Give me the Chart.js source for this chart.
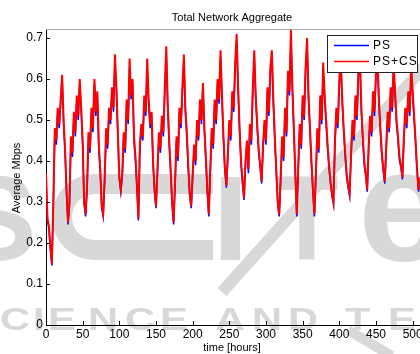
<!DOCTYPE html>
<html>
<head>
<meta charset="utf-8">
<script src="https://cdn.jsdelivr.net/npm/chart.js@4.4.1/dist/chart.umd.min.js"></script>
<style>
  html, body { margin: 0; padding: 0; background: #fff; }
  canvas { display: block; }
</style>
</head>
<body>
<canvas id="myChart" width="420" height="354"></canvas>
<script>
// Average Mbps, one value every 2 hours (t = 0, 2, 4 ... 510)
var psCs = [
  0.37, 0.26, 0.24,
  0.19, 0.15, 0.30, 0.48, 0.45, 0.53, 0.49, 0.55, 0.61, 0.50, 0.43, 0.33,
  0.25, 0.30, 0.46, 0.42, 0.52, 0.47, 0.56, 0.51, 0.60, 0.53, 0.45, 0.30,
  0.27, 0.34, 0.47, 0.43, 0.53, 0.48, 0.60, 0.52, 0.57, 0.44, 0.38, 0.29,
  0.27, 0.36, 0.48, 0.44, 0.53, 0.50, 0.58, 0.53, 0.66, 0.58, 0.47, 0.36,
  0.33, 0.37, 0.47, 0.43, 0.55, 0.50, 0.65, 0.56, 0.60, 0.46, 0.41, 0.34,
  0.26, 0.44, 0.49, 0.46, 0.56, 0.52, 0.65, 0.55, 0.49, 0.52, 0.40, 0.33,
  0.29, 0.38, 0.47, 0.43, 0.51, 0.47, 0.58, 0.68, 0.54, 0.45, 0.38, 0.30,
  0.25, 0.35, 0.46, 0.41, 0.53, 0.49, 0.58, 0.66, 0.53, 0.47, 0.39, 0.32,
  0.29, 0.37, 0.44, 0.40, 0.50, 0.46, 0.55, 0.50, 0.59, 0.48, 0.41, 0.33,
  0.27, 0.38, 0.48, 0.44, 0.55, 0.50, 0.60, 0.55, 0.67, 0.56, 0.46, 0.38,
  0.34, 0.42, 0.50, 0.46, 0.57, 0.53, 0.64, 0.71, 0.58, 0.48, 0.40, 0.35,
  0.31, 0.40, 0.45, 0.38, 0.49, 0.45, 0.58, 0.67, 0.56, 0.49, 0.43, 0.39,
  0.35, 0.44, 0.50, 0.45, 0.58, 0.52, 0.63, 0.67, 0.55, 0.46, 0.38, 0.30,
  0.27, 0.36, 0.46, 0.41, 0.53, 0.47, 0.62, 0.57, 0.72, 0.58, 0.48, 0.37,
  0.27, 0.39, 0.49, 0.44, 0.56, 0.51, 0.63, 0.70, 0.56, 0.48, 0.40, 0.33,
  0.27, 0.37, 0.48, 0.43, 0.56, 0.50, 0.64, 0.56, 0.50, 0.44, 0.39, 0.35, 0.32,
  0.30, 0.45, 0.53, 0.49, 0.60, 0.65, 0.55, 0.48, 0.42, 0.37, 0.34,
  0.32, 0.42, 0.50, 0.46, 0.56, 0.51, 0.62, 0.66, 0.53, 0.46, 0.40, 0.37,
  0.33, 0.44, 0.51, 0.47, 0.57, 0.52, 0.62, 0.66, 0.55, 0.48, 0.42, 0.38,
  0.35, 0.44, 0.52, 0.48, 0.58, 0.53, 0.64, 0.57, 0.50, 0.46, 0.41, 0.39,
  0.36, 0.46, 0.53, 0.49, 0.57, 0.52, 0.63, 0.57, 0.51, 0.45, 0.38, 0.33, 0.36
];
var ps = [
  0.36, 0.255, 0.235,
  0.185, 0.145, 0.29, 0.47, 0.44, 0.52, 0.48, 0.54, 0.60, 0.49, 0.42, 0.32,
  0.245, 0.29, 0.45, 0.41, 0.51, 0.46, 0.55, 0.50, 0.59, 0.52, 0.44, 0.295,
  0.265, 0.33, 0.46, 0.42, 0.52, 0.47, 0.59, 0.51, 0.56, 0.43, 0.37, 0.285,
  0.265, 0.35, 0.47, 0.43, 0.52, 0.49, 0.57, 0.52, 0.64, 0.57, 0.46, 0.355,
  0.325, 0.36, 0.46, 0.42, 0.54, 0.49, 0.63, 0.55, 0.59, 0.45, 0.40, 0.335,
  0.255, 0.43, 0.48, 0.45, 0.55, 0.51, 0.63, 0.54, 0.48, 0.51, 0.39, 0.325,
  0.285, 0.37, 0.46, 0.42, 0.50, 0.46, 0.57, 0.66, 0.53, 0.44, 0.37, 0.295,
  0.245, 0.34, 0.45, 0.40, 0.52, 0.48, 0.57, 0.64, 0.52, 0.46, 0.38, 0.315,
  0.285, 0.36, 0.43, 0.39, 0.49, 0.45, 0.54, 0.49, 0.58, 0.47, 0.40, 0.325,
  0.265, 0.37, 0.47, 0.43, 0.54, 0.49, 0.59, 0.54, 0.65, 0.55, 0.45, 0.375,
  0.335, 0.41, 0.49, 0.45, 0.56, 0.52, 0.63, 0.69, 0.57, 0.47, 0.39, 0.345,
  0.305, 0.39, 0.44, 0.37, 0.48, 0.44, 0.57, 0.65, 0.55, 0.48, 0.42, 0.385,
  0.345, 0.43, 0.49, 0.44, 0.57, 0.51, 0.62, 0.65, 0.54, 0.45, 0.37, 0.295,
  0.265, 0.35, 0.45, 0.40, 0.52, 0.46, 0.61, 0.56, 0.70, 0.57, 0.47, 0.365,
  0.265, 0.38, 0.48, 0.43, 0.55, 0.50, 0.62, 0.68, 0.55, 0.47, 0.39, 0.325,
  0.265, 0.36, 0.47, 0.42, 0.55, 0.49, 0.62, 0.55, 0.49, 0.43, 0.38, 0.345, 0.315,
  0.295, 0.44, 0.52, 0.48, 0.59, 0.63, 0.54, 0.47, 0.41, 0.36, 0.335,
  0.315, 0.41, 0.49, 0.45, 0.55, 0.50, 0.61, 0.64, 0.52, 0.45, 0.39, 0.365,
  0.325, 0.43, 0.50, 0.46, 0.56, 0.51, 0.61, 0.64, 0.54, 0.47, 0.41, 0.375,
  0.345, 0.43, 0.51, 0.47, 0.57, 0.52, 0.62, 0.56, 0.49, 0.45, 0.40, 0.385,
  0.355, 0.45, 0.52, 0.48, 0.56, 0.51, 0.62, 0.56, 0.50, 0.44, 0.375, 0.325, 0.355
];
var hours = ps.map(function (v, i) { return i * 2; });
var xTicks = [0, 50, 100, 150, 200, 250, 300, 350, 400, 450, 500];
var yTicks = [0, 0.1, 0.2, 0.3, 0.4, 0.5, 0.6, 0.7];
var seriesNames = ['PS', 'PS+CS'];

var fontName = '"Liberation Sans", Arial, sans-serif';

function toPoints(vals) {
  return vals.map(function (v, i) { return { x: hours[i], y: v }; });
}

// grey publisher watermark behind the plot
function wmLetter(ctx, ch, x, y, size, sx) {
  ctx.save();
  ctx.translate(x, y);
  ctx.scale(sx, 1);
  ctx.font = 'bold ' + size + 'px ' + fontName;
  ctx.fillText(ch, 0, 0);
  ctx.restore();
}

var decor = {
  id: 'decor',
  beforeDraw: function (chart) {
    var ctx = chart.ctx;
    ctx.save();
    ctx.fillStyle = '#d8d8d8';
    ctx.strokeStyle = '#d8d8d8';
    ctx.textBaseline = 'alphabetic';
    wmLetter(ctx, 'S', -44, 260, 121, 1);
    // wide open C
    ctx.lineWidth = 20;
    ctx.lineCap = 'butt';
    ctx.beginPath();
    ctx.moveTo(213, 184);
    ctx.lineTo(95, 184);
    ctx.arc(95, 217, 33, -Math.PI / 2, Math.PI / 2, true);
    ctx.lineTo(213, 250);
    ctx.stroke();
    wmLetter(ctx, 'I', 212, 260, 121, 1.1);
    wmLetter(ctx, 'T', 275, 260, 121, 0.86);
    wmLetter(ctx, 'e', 358, 260, 160, 1);
    ctx.lineWidth = 12;
    ctx.beginPath();
    ctx.moveTo(222, 292);
    ctx.lineTo(432, 58);
    ctx.stroke();
    ctx.lineWidth = 10;
    ctx.beginPath();
    ctx.moveTo(348, 330);
    ctx.lineTo(392, 356);
    ctx.stroke();
    var row = [['C', 0], ['I', 33], ['E', 48], ['N', 88], ['C', 125], ['E', 160],
               ['A', 215], ['N', 252], ['D', 288], ['T', 345], ['E', 388]];
    row.forEach(function (r) { wmLetter(ctx, r[0], r[1], 330, 32, 1.3); });
    ctx.restore();
  },
  afterDatasetsDraw: function (chart) {
    var ctx = chart.ctx;
    var a = chart.chartArea;
    var xs = chart.scales.x, ys = chart.scales.y;
    ctx.save();
    // top box line
    ctx.strokeStyle = '#a8a8a8';
    ctx.lineWidth = 1;
    ctx.beginPath();
    ctx.moveTo(a.left, Math.round(a.top) + 0.5);
    ctx.lineTo(a.right, Math.round(a.top) + 0.5);
    ctx.stroke();
    // inward tick marks
    ctx.strokeStyle = '#000';
    ctx.beginPath();
    xTicks.forEach(function (v) {
      var px = Math.round(xs.getPixelForValue(v)) + 0.5;
      ctx.moveTo(px, a.bottom);
      ctx.lineTo(px, a.bottom - 4);
    });
    yTicks.forEach(function (v) {
      var py = Math.round(ys.getPixelForValue(v)) + 0.5;
      ctx.moveTo(a.left, py);
      ctx.lineTo(a.left + 4, py);
    });
    ctx.stroke();
    // legend
    ctx.fillStyle = '#fff';
    ctx.fillRect(327.5, 35.5, 90, 37);
    ctx.strokeStyle = '#222';
    ctx.strokeRect(327.5, 35.5, 90, 37);
    var cols = ['#0000ff', '#ff0000'];
    ctx.font = '12px ' + fontName;
    ctx.textBaseline = 'middle';
    ctx.textAlign = 'left';
    ctx.letterSpacing = '1px';
    seriesNames.forEach(function (n, i) {
      var y = 45.5 + i * 16;
      ctx.strokeStyle = cols[i];
      ctx.lineWidth = 1.5;
      ctx.beginPath();
      ctx.moveTo(334, y);
      ctx.lineTo(369, y);
      ctx.stroke();
      ctx.fillStyle = '#000';
      ctx.fillText(n, 373, y + 0.5);
    });
    ctx.letterSpacing = '0px';
    // titles
    ctx.fillStyle = '#000';
    ctx.textAlign = 'center';
    ctx.font = '11px ' + fontName;
    ctx.fillText('Total Network Aggregate', 232, 17.5);
    ctx.fillText('time [hours]', 232, 348);
    ctx.translate(16.5, 178);
    ctx.rotate(-Math.PI / 2);
    ctx.fillText('Average Mbps', 0, 0);
    ctx.restore();
  }
};

var ctx = document.getElementById('myChart').getContext('2d');
var myChart = new Chart(ctx, {
  type: 'line',
  data: {
    datasets: [{
      label: seriesNames[0],
      data: toPoints(ps),
      borderColor: '#0000ff',
      borderWidth: 1.5,
      pointRadius: 0,
      order: 1
    }, {
      label: seriesNames[1],
      data: toPoints(psCs),
      borderColor: '#ff0000',
      borderWidth: 2,
      pointRadius: 0,
      order: 0
    }]
  },
  options: {
    responsive: false,
    animation: false,
    layout: { padding: { top: 29, left: 0, right: 0, bottom: 0 } },
    plugins: {
      legend: { display: false },
      title: { display: false },
      tooltip: { enabled: false }
    },
    scales: {
      x: {
        type: 'linear',
        min: 0,
        max: 510,
        afterBuildTicks: function (s) { s.ticks = xTicks.map(function (v) { return { value: v }; }); },
        afterFit: function (s) { s.height = 29; s.paddingLeft = 0; s.paddingRight = 0; },
        grid: { drawOnChartArea: false, drawTicks: false },
        border: { color: '#000', width: 1 },
        ticks: { color: '#000', font: { family: fontName, size: 12 }, padding: 2, maxRotation: 0, autoSkip: false }
      },
      y: {
        min: 0,
        max: 0.722,
        afterBuildTicks: function (s) { s.ticks = yTicks.map(function (v) { return { value: v }; }); },
        afterFit: function (s) { s.width = 46; },
        grid: { drawOnChartArea: false, drawTicks: false },
        border: { color: '#000', width: 1 },
        ticks: { color: '#000', font: { family: fontName, size: 12 }, padding: 3 }
      }
    }
  },
  plugins: [decor]
});
</script>
</body>
</html>
